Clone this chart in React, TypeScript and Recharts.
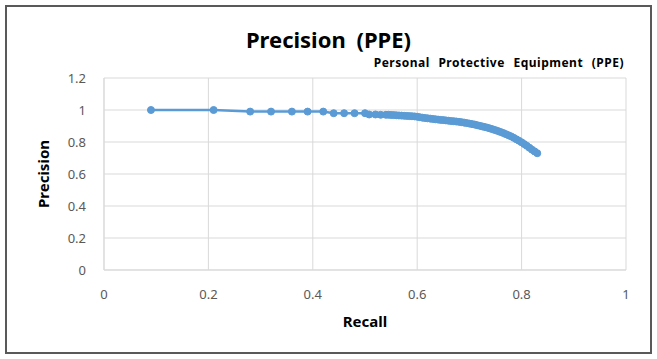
import React from "react";
import { LineChart, Line, XAxis, YAxis, CartesianGrid, Label } from "recharts";

const recall = [
  0.09, 0.21, 0.28, 0.32, 0.36, 0.39, 0.42, 0.44, 0.46, 0.48, 0.5, 0.508, 0.52,
  0.53, 0.54, 0.545, 0.55, 0.555, 0.56, 0.565, 0.57, 0.575, 0.58, 0.585, 0.59, 0.595,
  0.6, 0.605, 0.61, 0.615, 0.62, 0.625, 0.63, 0.635, 0.64, 0.645, 0.65, 0.655, 0.66,
  0.665, 0.67, 0.675, 0.68, 0.685, 0.69, 0.695, 0.7, 0.705, 0.71, 0.715, 0.72, 0.725,
  0.73, 0.735, 0.74, 0.745, 0.75, 0.755, 0.76, 0.765, 0.77, 0.775, 0.78, 0.785, 0.79,
  0.795, 0.8, 0.805, 0.81, 0.815, 0.82, 0.825, 0.83,
];
const precision = [
  1.0, 1.0, 0.99, 0.99, 0.99, 0.99, 0.99, 0.98, 0.98, 0.98, 0.98, 0.972, 0.972,
  0.97, 0.97, 0.97, 0.969, 0.968, 0.967, 0.966, 0.965, 0.964, 0.963, 0.962, 0.961, 0.96,
  0.958, 0.955, 0.952, 0.95, 0.948, 0.946, 0.944, 0.942, 0.94, 0.938, 0.937, 0.935, 0.933,
  0.931, 0.93, 0.928, 0.926, 0.924, 0.921, 0.918, 0.915, 0.912, 0.909, 0.905, 0.901, 0.897,
  0.893, 0.889, 0.884, 0.879, 0.874, 0.868, 0.862, 0.856, 0.849, 0.842, 0.835, 0.826, 0.817,
  0.808, 0.798, 0.787, 0.776, 0.764, 0.752, 0.741, 0.73,
];
const xTicks = [0, 0.2, 0.4, 0.6, 0.8, 1];
const yTicks = [0, 0.2, 0.4, 0.6, 0.8, 1, 1.2];

const data = recall.map((r, i) => ({ recall: r, precision: precision[i] }));

const FONT = "'Noto Sans', 'Open Sans', sans-serif";

export default function App() {
  return (
    <div style={{ position: "absolute", left: 0, top: 0, width: 657, height: 359, background: "#fff", fontFamily: FONT }}>
      <div
        style={{
          position: "absolute",
          left: 5,
          top: 5,
          width: 647,
          height: 349,
          border: "2px solid #595959",
          boxSizing: "border-box",
        }}
      />
      <div
        style={{
          position: "absolute",
          left: 0,
          width: 657,
          top: 24,
          textAlign: "center",
          fontSize: 22,
          fontWeight: 700,
          color: "#000",
          lineHeight: "30px",
          wordSpacing: 5,
        }}
      >
        Precision (PPE)
      </div>
      <div
        style={{
          position: "absolute",
          right: 33,
          top: 55,
          fontSize: 12,
          fontWeight: 700,
          color: "#000",
          lineHeight: "16px",
          wordSpacing: 5,
          letterSpacing: 0.5,
        }}
      >
        Personal Protective Equipment (PPE)
      </div>
      <div style={{ position: "absolute", left: 0, top: 0 }}>
        <LineChart width={657} height={359} data={data} margin={{ top: 78, right: 31, bottom: 32, left: 24 }}>
          <CartesianGrid stroke="#d9d9d9" strokeWidth={1} />
          <XAxis
            type="number"
            dataKey="recall"
            domain={[0, 1]}
            ticks={xTicks}
            tick={{ fill: "#595959", fontSize: 13, fontFamily: FONT }}
            tickLine={false}
            axisLine={{ stroke: "#d9d9d9" }}
            tickMargin={14}
            height={57}
          >
            <Label value="Recall" position="insideBottom" offset={0} style={{ fill: "#000", fontSize: 15, fontWeight: 700, fontFamily: FONT }} />
          </XAxis>
          <YAxis
            type="number"
            dataKey="precision"
            domain={[0, 1.2]}
            ticks={yTicks}
            tick={{ fill: "#595959", fontSize: 13, fontFamily: FONT }}
            tickLine={false}
            axisLine={{ stroke: "#d9d9d9" }}
            tickMargin={12}
            width={80}
          >
            <Label value="Precision" angle={-90} position="insideLeft" offset={20} style={{ fill: "#000", fontSize: 15, fontWeight: 700, fontFamily: FONT, textAnchor: "middle" }} />
          </YAxis>
          <Line
            type="linear"
            dataKey="precision"
            stroke="#5B9BD5"
            strokeWidth={2.5}
            dot={{ r: 3.5, fill: "#5B9BD5", stroke: "#5B9BD5", strokeWidth: 1 }}
            isAnimationActive={false}
          />
        </LineChart>
      </div>
    </div>
  );
}
